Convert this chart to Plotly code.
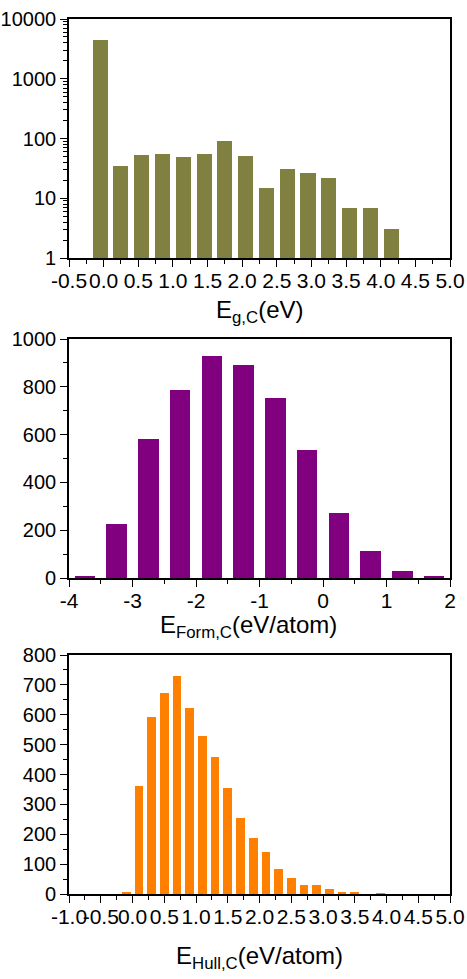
import plotly.graph_objects as go
from plotly.subplots import make_subplots

# Panel 1: band gap histogram (log y)
eg_centers = [-0.05, 0.25, 0.55, 0.85, 1.15, 1.45, 1.75, 2.05, 2.35, 2.65, 2.95, 3.25, 3.55, 3.85, 4.15]
eg_counts = [4500, 34, 52, 55, 49, 54, 90, 51, 15, 31, 26, 22, 7, 7, 3]
eg_tickvals = [-0.5, 0.0, 0.5, 1.0, 1.5, 2.0, 2.5, 3.0, 3.5, 4.0, 4.5, 5.0]
eg_ticktext = ["-0.5", "0.0", "0.5", "1.0", "1.5", "2.0", "2.5", "3.0", "3.5", "4.0", "4.5", "5.0"]
eg_yvals = [1, 10, 100, 1000, 10000]
eg_ytext = ["1", "10", "100", "1000", "10000"]

# Panel 2: formation energy histogram
ef_centers = [-3.75, -3.25, -2.75, -2.25, -1.75, -1.25, -0.75, -0.25, 0.25, 0.75, 1.25, 1.75]
ef_counts = [10, 224, 580, 788, 930, 893, 753, 535, 270, 112, 31, 7]
ef_tickvals = [-4, -3, -2, -1, 0, 1, 2]
ef_ticktext = ["-4", "-3", "-2", "-1", "0", "1", "2"]

# Panel 3: energy above hull histogram
eh_centers = [-0.1, 0.1, 0.3, 0.5, 0.7, 0.9, 1.1, 1.3, 1.5, 1.7, 1.9, 2.1, 2.3, 2.5, 2.7,
              2.9, 3.1, 3.3, 3.5, 3.7, 3.9]
eh_counts = [8, 360, 594, 672, 731, 621, 528, 459, 354, 256, 186, 142, 85, 55, 29,
             31, 16, 8, 6, 0, 3]
eh_tickvals = [-1.0, -0.5, 0.0, 0.5, 1.0, 1.5, 2.0, 2.5, 3.0, 3.5, 4.0, 4.5, 5.0]
eh_ticktext = ["-1.0", "-0.5", "0.0", "0.5", "1.0", "1.5", "2.0", "2.5", "3.0", "3.5", "4.0", "4.5", "5.0"]

x_titles = ["E<sub>g,C</sub>(eV)", "E<sub>Form,C</sub>(eV/atom)", "E<sub>Hull,C</sub>(eV/atom)"]

FONT = "Liberation Sans, Arial, sans-serif"

fig = make_subplots(rows=3, cols=1)
fig.add_trace(go.Bar(x=eg_centers, y=eg_counts, width=0.217, marker=dict(color="#808040", line=dict(width=0))), row=1, col=1)
fig.add_trace(go.Bar(x=ef_centers, y=ef_counts, width=0.326, marker=dict(color="#800080", line=dict(width=0))), row=2, col=1)
fig.add_trace(go.Bar(x=eh_centers, y=eh_counts, width=0.137, marker=dict(color="#FF8000", line=dict(width=0))), row=3, col=1)

W, H = 467, 979
L, R, T, B = 69, 17, 19, 85
ph = H - T - B

def dom(top_px, bot_px):
    return [(H - B - bot_px) / ph, (H - B - top_px) / ph]

axcommon = dict(showline=True, linecolor="black", linewidth=1.6, mirror=True,
                ticks="outside", ticklen=7, tickwidth=1.3, tickcolor="black",
                showgrid=False, zeroline=False, automargin=False, tickangle=0)
xfont = dict(family=FONT, size=21, color="black")
yfont = dict(family=FONT, size=20, color="black")

fig.update_layout(
    width=W, height=H, margin=dict(l=L, r=R, t=T, b=B, autoexpand=False),
    paper_bgcolor="white", plot_bgcolor="white", showlegend=False,
    bargap=0,
    font=dict(family=FONT, color="black"),
)

fig.update_yaxes(domain=dom(19, 258), row=1, col=1)
fig.update_yaxes(domain=dom(339, 578), row=2, col=1)
fig.update_yaxes(domain=dom(655, 894), row=3, col=1)

minor_common = dict(ticks="outside", ticklen=4, tickcolor="black", tickwidth=1.2)

fig.update_xaxes(axcommon, row=1, col=1, range=[-0.5, 5.0], tickfont=xfont,
                 tickvals=eg_tickvals, ticktext=eg_ticktext, ticklabelstandoff=-4,
                 minor=dict(minor_common, dtick=0.25, tick0=0))
fig.update_yaxes(axcommon, row=1, col=1, type="log", range=[0, 4], tickfont=yfont,
                 tickvals=eg_yvals, ticktext=eg_ytext,
                 minor=dict(minor_common, dtick="D1"))

fig.update_xaxes(axcommon, row=2, col=1, range=[-4, 2], tickfont=xfont,
                 tickvals=ef_tickvals, ticktext=ef_ticktext, ticklabelstandoff=-4,
                 minor=dict(minor_common, dtick=0.5, tick0=0))
fig.update_yaxes(axcommon, row=2, col=1, range=[0, 1000], dtick=200, tickfont=yfont,
                 minor=dict(minor_common, dtick=100))

fig.update_xaxes(axcommon, row=3, col=1, range=[-1, 5], tickfont=xfont,
                 tickvals=eh_tickvals, ticktext=eh_ticktext, ticklabelstandoff=-4,
                 minor=dict(minor_common, dtick=0.25, tick0=0))
fig.update_yaxes(axcommon, row=3, col=1, range=[0, 800], dtick=100, tickfont=yfont,
                 minor=dict(minor_common, dtick=50))

# axis titles as annotations placed below each panel
title_top_px = [294, 609, 940]
title_sizes = [24, 24, 24]
title_x = [0.5, 0.47, 0.5]
for t, ypx, fs, xx in zip(x_titles, title_top_px, title_sizes, title_x):
    fig.add_annotation(text=t, xref="paper", yref="paper", x=xx,
                       y=(H - B - ypx) / ph, xanchor="center", yanchor="top",
                       showarrow=False, font=dict(family=FONT, size=fs, color="black"))

fig.write_html("out.html", config={"displayModeBar": False},
               post_script="document.body.style.margin='0';")
